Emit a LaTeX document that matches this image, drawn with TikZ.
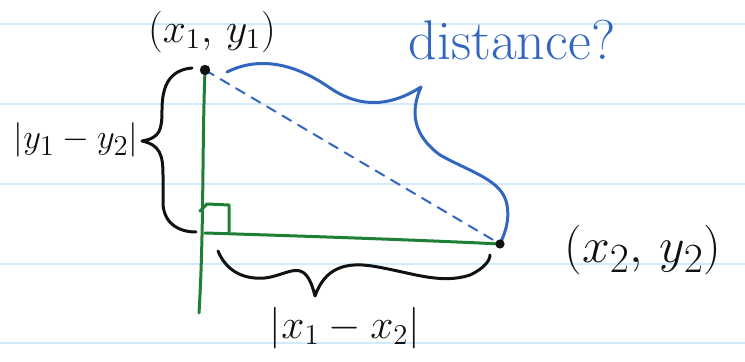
\documentclass[tikz,border=0pt]{standalone}
\usepackage{amsmath,amssymb}
\usepackage{xcolor}
\usepackage{tikz}
\usetikzlibrary{positioning, arrows.meta}
\definecolor{hBlue}{HTML}{3366C0}
\definecolor{hGreen}{HTML}{1F7F36}
\definecolor{hInk}{HTML}{111111}
\definecolor{pRule}{HTML}{D3EAFB}
\tikzset{
  legline/.style={draw=hGreen, line width=1.5pt},
  bracestroke/.style={draw=hInk, line width=1.5pt},
  pathstroke/.style={draw=hBlue, line width=1.5pt},
  handlabel/.style={text=hInk, inner sep=0pt}
}

\begin{document}
\begin{tikzpicture}[x=0.5pt, y=-0.5pt, line cap=round, line join=round]
  \useasboundingbox (0,0) rectangle (745,362);
  \fill[white] (0,0) rectangle (745,362);
  % ruled paper
  \foreach \ry in {24,104,184,264,343}
    \draw[pRule, line width=1pt] (0,\ry) -- (745,\ry);
  \coordinate (p1) at (205,70);
  \coordinate (p2) at (500,244);
  \coordinate (rc) at (205,233);
  \coordinate (vbot) at (199,313);
  % legs of the triangle
  \draw[legline] (p1) .. controls (202,150) and (204,230) .. (vbot);
  \draw[legline] (rc) .. controls (300,236) and (420,240) .. (p2);
  \draw[legline] (200,211) -- (207,204) -- (229,205) -- (229,232);
  % straight and winding way
  \draw[hBlue, line width=1pt, dash pattern=on 5pt off 4pt] (p1) -- (p2);
  \draw[pathstroke] (227,72) .. controls (255,58) and (290,60) .. (330,88)
    .. controls (355,105) and (385,110) .. (421,87)
    .. controls (410,112) and (413,135) .. (440,155)
    .. controls (470,172) and (503,180) .. (507,205)
    .. controls (510,222) and (504,235) .. (p2);
  \fill[hInk] (p1) circle (2.6pt);
  \fill[hInk] (p2) circle (2.3pt);
  % braces
  \draw[bracestroke] (192,68) .. controls (170,70) and (162,85) .. (162,110)
    .. controls (162,130) and (160,138) .. (142,141)
    .. controls (160,145) and (163,155) .. (163,175) -- (163,205)
    .. controls (165,225) and (180,232) .. (196,232);
  \draw[bracestroke] (218,251) .. controls (225,268) and (240,280) .. (265,278)
    .. controls (290,275) and (305,255) .. (315,296)
    .. controls (325,268) and (345,262) .. (372,266)
    .. controls (410,272) and (440,285) .. (470,275)
    .. controls (485,268) and (490,260) .. (490,255);
  % labels
  \node[handlabel, font=\fontsize{20}{24}\selectfont] (lp1) at (212,32) {$(x_1,\,y_1)$};
  \node[handlabel, font=\fontsize{32}{38}\selectfont] (lp2) at (643,250) {$(x_2,\,y_2)$};
  \node[handlabel, text=hBlue, font=\fontsize{28}{33}\selectfont] (ldist) at (512,40) {distance?};
  \node[handlabel, font=\fontsize{19}{23}\selectfont] (ldy) at (76,140) {$|y_1-y_2|$};
  \node[handlabel, font=\fontsize{21}{25}\selectfont] (ldx) at (345,328) {$|x_1-x_2|$};
\end{tikzpicture}
\end{document}
